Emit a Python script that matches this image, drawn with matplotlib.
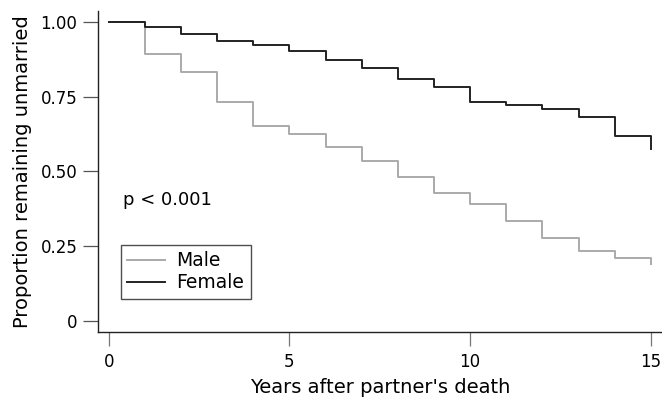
import matplotlib
matplotlib.use('Agg')
import matplotlib.pyplot as plt
import numpy as np

plt.rcParams['font.family'] = ['DejaVu Sans']

# Kaplan-Meier style step data
years = np.arange(0, 16)
female = [1.0, 0.983, 0.958, 0.937, 0.921, 0.904, 0.872, 0.844,
          0.808, 0.783, 0.731, 0.722, 0.708, 0.681, 0.617, 0.576]
male = [1.0, 0.892, 0.833, 0.732, 0.652, 0.626, 0.583, 0.533,
        0.481, 0.427, 0.391, 0.333, 0.276, 0.233, 0.211, 0.189]
x_ticks = [0, 5, 10, 15]
y_ticks = [0, 0.25, 0.5, 0.75, 1.0]
y_tick_labels = ['0', '0.25', '0.50', '0.75', '1.00']

fig = plt.figure(figsize=(6.62, 4.03), dpi=100)
ax = fig.add_axes([0.1485, 0.1754, 0.8515, 0.798])

ax.plot(years, male, drawstyle='steps-post', color='#aaaaaa', lw=1.4, label='Male')
ax.plot(years, female, drawstyle='steps-post', color='#222222', lw=1.4, label='Female')

ax.set_xlim(-0.288, 15.31)
ax.set_ylim(-0.038, 1.037)
ax.set_xticks(x_ticks)
ax.set_yticks(y_ticks)
ax.set_yticklabels(y_tick_labels)

ax.spines['top'].set_visible(False)
ax.spines['right'].set_visible(False)
for s in ['left', 'bottom']:
    ax.spines[s].set_linewidth(1.0)
    ax.spines[s].set_color('#222222')

ax.tick_params(axis='y', length=11, width=0.9, color='#555555', labelsize=12, pad=4)
ax.tick_params(axis='x', length=10, width=0.9, color='#777777', labelsize=12, pad=5)

ax.set_xlabel("Years after partner's death", fontsize=14, labelpad=5)
ax.set_ylabel('Proportion remaining unmarried', fontsize=14, labelpad=6)

ax.text(0.40, 0.404, 'p < 0.001', fontsize=13, va='center', ha='left')

leg = ax.legend(loc='lower left', bbox_to_anchor=(0.04, 0.104), borderaxespad=0,
                fontsize=13.5, fancybox=False, handlelength=2.0, handletextpad=0.6,
                borderpad=0.35, labelspacing=0.15)
leg.get_frame().set_edgecolor('#222222')
leg.get_frame().set_linewidth(1.0)

fig.savefig('out.png', dpi=100)
